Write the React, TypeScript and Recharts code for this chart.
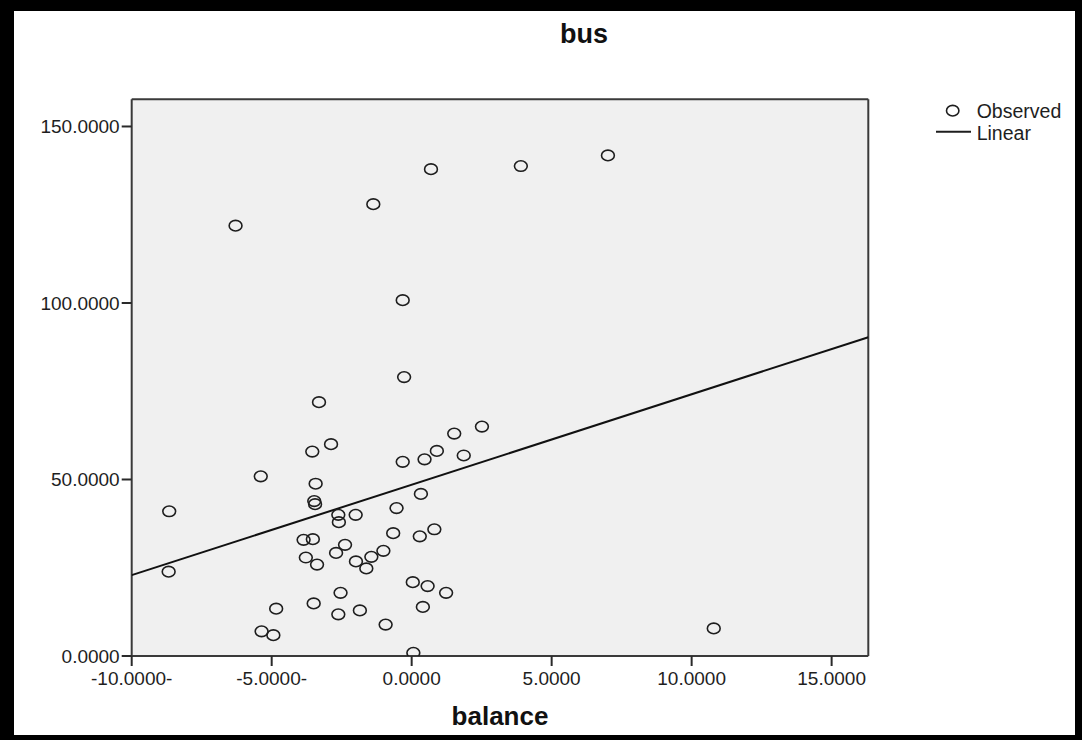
import { ScatterChart, Scatter, XAxis, YAxis, CartesianGrid, ReferenceLine } from 'recharts';

// balance (x) and bus (y)
const balance = [
  0.69, -1.37, -6.29, -0.32, -0.27, 3.9, 7.01, -3.31, 2.51, 1.52,
  -2.88, -3.55, 0.9, 1.86, 0.46, -0.32, -5.39, -3.43, -3.48, -3.45,
  0.33, -8.66, -0.54, -2.0, -2.62, -2.6, 0.81, -0.66, 0.29, -3.86,
  -3.53, -2.38, -1.01, -2.7, -3.78, -1.44, -1.99, -3.38, -1.62, -8.68,
  0.04, 0.57, 1.23, -2.54, -3.5, -4.84, 0.4, -1.85, -2.62, -0.93,
  -5.36, -4.94, 0.06, 10.79,
];
const bus = [
  137.9, 128.0, 121.9, 100.8, 79.0, 138.8, 141.8, 71.9, 65.0, 63.0,
  60.0, 57.9, 58.1, 56.8, 55.7, 55.0, 50.9, 48.8, 43.9, 43.0,
  45.9, 41.0, 41.9, 40.0, 40.0, 37.9, 35.9, 34.8, 33.9, 32.9,
  33.1, 31.5, 29.8, 29.2, 27.9, 28.1, 26.8, 25.9, 24.8, 23.9,
  20.9, 19.8, 17.9, 17.9, 14.9, 13.4, 13.9, 12.9, 11.8, 8.9,
  7.0, 5.9, 0.9, 7.8,
];

// linear fit end points
const fitX = [-10, 16.31];
const fitY = [22.9, 90.3];

const xDomain = [-10, 16.31];
const yDomain = [0, 157.7];
const xTicks = [-10, -5, 0, 5, 10, 15];
const xTickLabels = ['-10.0000-', '-5.0000-', '0.0000', '5.0000', '10.0000', '15.0000'];
const yTicks = [0, 50, 100, 150];
const yTickLabels = ['0.0000', '50.0000', '100.0000', '150.0000'];

const observed = balance.map((x, i) => ({ x, y: bus[i] }));
const fitLine = fitX.map((x, i) => ({ x, y: fitY[i] }));

const font = 'Liberation Sans, Arial, sans-serif';
const ink = '#1e1e1e';

const Ring = (props: any) => (
  <ellipse cx={props.cx} cy={props.cy} rx={6.4} ry={5.3} fill="none" stroke={ink} strokeWidth={1.6} />
);

function LegendBox() {
  return (
    <svg width={150} height={40} style={{ position: 'absolute', left: 930, top: 98, overflow: 'visible' }}>
      <ellipse cx={22.7} cy={12.7} rx={6.2} ry={5.3} fill="none" stroke={ink} strokeWidth={1.6} />
      <text x={46.7} y={12.7} dy="0.355em" fontSize={19.5} fill={ink} fontFamily={font}>Observed</text>
      <line x1={6} x2={41} y1={33.7} y2={33.7} stroke={ink} strokeWidth={2} />
      <text x={46.7} y={34.7} dy="0.355em" fontSize={19.5} fill={ink} fontFamily={font}>Linear</text>
    </svg>
  );
}

export default function App() {
  const tickStyle = { fill: ink, fontSize: 19, fontFamily: font };
  return (
    <div style={{ position: 'absolute', left: 0, top: 0, width: 1082, height: 740, background: '#000' }}>
      <div style={{ position: 'absolute', left: 14, top: 11, width: 1061, height: 724, background: '#fff' }} />
      <div style={{ position: 'absolute', left: 0, top: 0, width: 1082, height: 740 }}>
        <div style={{ position: 'absolute', left: 484, width: 200, top: 19, textAlign: 'center', fontFamily: font, fontWeight: 700, fontSize: 27, color: '#111' }}>
          bus
        </div>
        <div style={{ position: 'absolute', left: 400, width: 200, top: 701, textAlign: 'center', fontFamily: font, fontWeight: 700, fontSize: 26, color: '#111' }}>
          balance
        </div>
        <ScatterChart width={1082} height={740} margin={{ top: 99.3, right: 213.7, bottom: 54, left: 71.7 }}>
          <CartesianGrid fill="#f0f0f0" horizontal={false} vertical={false} />
          <XAxis type="number" dataKey="x" domain={xDomain} ticks={xTicks} allowDataOverflow
            tickFormatter={(v: number) => xTickLabels[xTicks.indexOf(v)]}
            height={30} tickSize={10} tickMargin={6} interval={0}
            tick={tickStyle} axisLine={{ stroke: '#3a3a3a', strokeWidth: 2 }} tickLine={{ stroke: '#2a2a2a', strokeWidth: 2 }} />
          <YAxis type="number" dataKey="y" domain={yDomain} ticks={yTicks} allowDataOverflow
            tickFormatter={(v: number) => yTickLabels[yTicks.indexOf(v)]}
            width={60} tickSize={10} tickMargin={2} interval={0}
            tick={tickStyle} axisLine={{ stroke: '#3a3a3a', strokeWidth: 2 }} tickLine={{ stroke: '#2a2a2a', strokeWidth: 2 }} />
          <ReferenceLine y={yDomain[1]} stroke="#3a3a3a" strokeWidth={2} />
          <ReferenceLine x={xDomain[1]} stroke="#3a3a3a" strokeWidth={2} />
          <Scatter name="Linear" data={fitLine} line={{ stroke: '#111', strokeWidth: 2 }} shape={() => <g />} isAnimationActive={false} />
          <Scatter name="Observed" data={observed} shape={Ring} isAnimationActive={false} />
        </ScatterChart>
        <LegendBox />
      </div>
    </div>
  );
}
